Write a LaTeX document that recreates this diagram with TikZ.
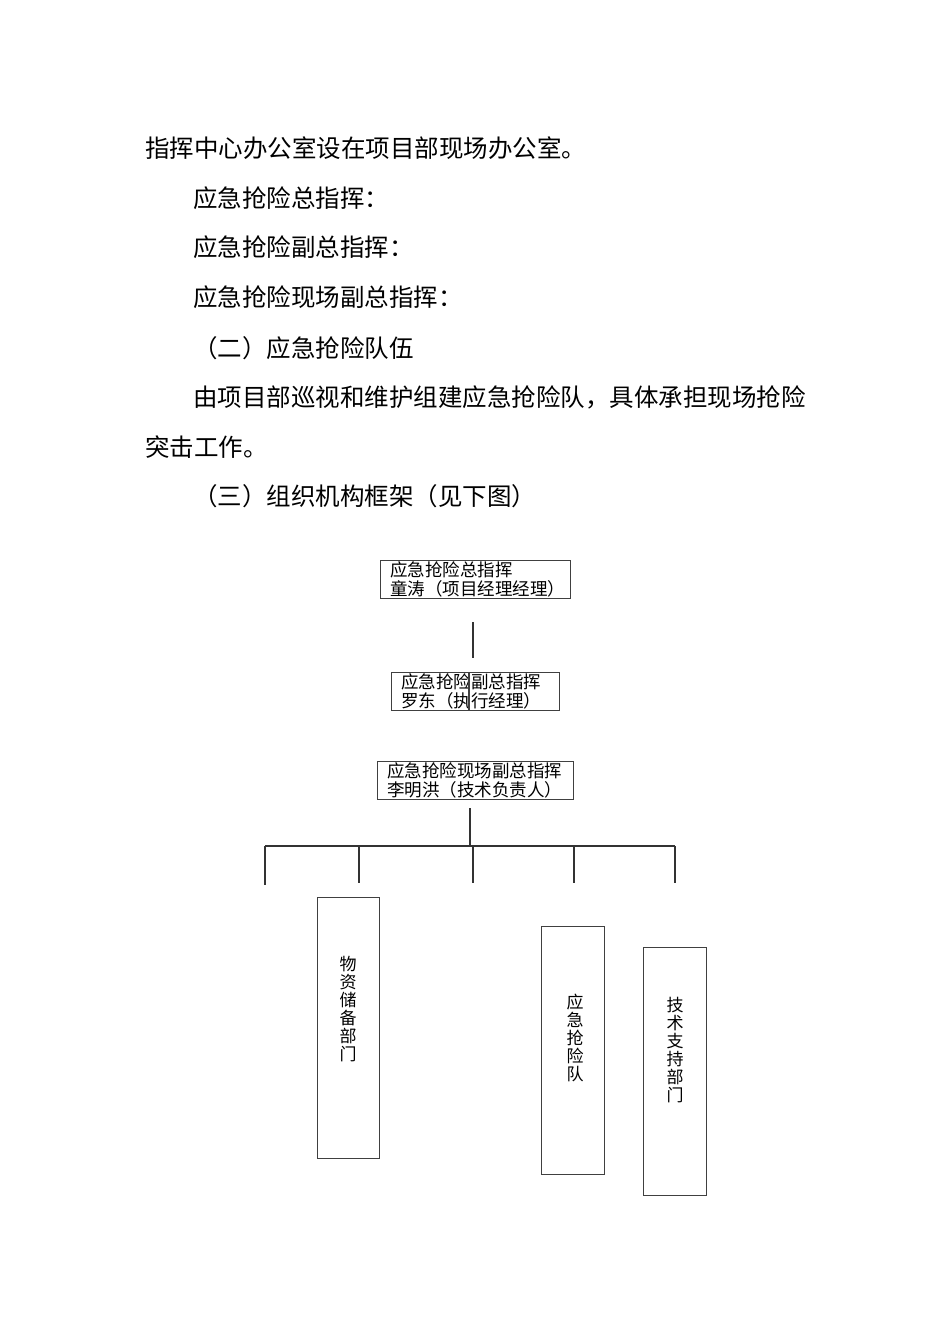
\documentclass[tikz,border=0pt]{standalone}
\usepackage{fontspec}
\setmainfont{Noto Sans CJK SC}
\begin{document}
\begin{tikzpicture}[x=1pt,y=-1pt,
  bodytext/.style={anchor=west,inner sep=0pt,font=\fontsize{24.5}{24.5}\selectfont},
  chartbox/.style={draw=black!75,line width=1.2pt,rectangle,anchor=north west,inner xsep=9.5pt,inner ysep=0pt,align=left,minimum height=38pt,font=\fontsize{17.5}{19}\selectfont},
  vbox/.style={draw=black!75,line width=1.2pt,rectangle,anchor=north west,inner sep=0pt},
  vtext/.style={anchor=north,inner sep=0pt,align=center,font=\fontsize{17}{18}\selectfont},
  link/.style={draw=black!80,line width=1.3pt}]
\useasboundingbox (0,0) rectangle (950,1344);
\fill[white] (0,0) rectangle (950,1344);
% body text
\node[bodytext] (t1) at (145,148) {指挥中心办公室设在项目部现场办公室。};
\node[bodytext] (t2) at (193,198) {应急抢险总指挥：};
\node[bodytext] (t3) at (193,247) {应急抢险副总指挥：};
\node[bodytext] (t4) at (193,297) {应急抢险现场副总指挥：};
\node[bodytext] (t5) at (193,348) {（二）应急抢险队伍};
\node[bodytext] (t6) at (193,397) {由项目部巡视和维护组建应急抢险队，具体承担现场抢险};
\node[bodytext] (t7) at (145,447) {突击工作。};
\node[bodytext] (t8) at (193,496) {（三）组织机构框架（见下图）};
% chart boxes
\node[chartbox,text width=171pt] (b1) at (380,560) {应急抢险总指挥\\童涛（项目经理经理）};
\node[chartbox,text width=149pt] (b2) at (391,672) {应急抢险副总指挥\\罗东（执行经理）};
\node[chartbox,text width=177pt] (b3) at (377,761) {应急抢险现场副总指挥\\李明洪（技术负责人）};
\draw[black!75,line width=1.2pt] ([xshift=78pt]b2.north west) -- ([xshift=78pt]b2.south west);
% vertical boxes
\node[vbox,minimum width=62pt,minimum height=261pt] (v1) at (317,897) {};
\node[vbox,minimum width=63pt,minimum height=248pt] (v2) at (541,926) {};
\node[vbox,minimum width=63pt,minimum height=248pt] (v3) at (643,947) {};
\node[vtext] (v1t) at (348,956) {物\\资\\储\\备\\部\\门};
\node[vtext] (v2t) at (575,994) {应\\急\\抢\\险\\队};
\node[vtext] (v3t) at (675,997) {技\\术\\支\\持\\部\\门};
% connectors
\coordinate (a1) at (473,622);
\coordinate (a2) at (473,658);
\draw[link] (a1) -- (a2);
\coordinate (s1) at (470,808);
\coordinate (s2) at (470,846);
\draw[link] (s1) -- (s2);
\coordinate (h1) at (265,846);
\coordinate (h2) at (359,846);
\coordinate (h3) at (473,846);
\coordinate (h4) at (574,846);
\coordinate (h5) at (675,846);
\draw[link] (h1) -- (h5);
\coordinate (d1) at (265,885);
\coordinate (d2) at (359,883);
\coordinate (d3) at (473,883);
\coordinate (d4) at (574,883);
\coordinate (d5) at (675,883);
\draw[link] (h1) -- (d1);
\draw[link] (h2) -- (d2);
\draw[link] (h3) -- (d3);
\draw[link] (h4) -- (d4);
\draw[link] (h5) -- (d5);
\end{tikzpicture}
\end{document}
